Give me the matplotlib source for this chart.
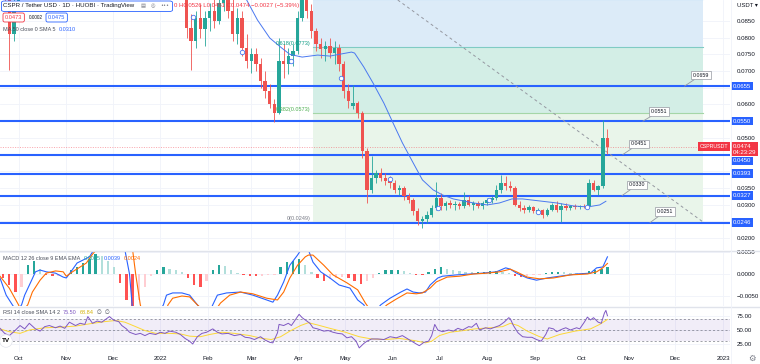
import numpy as np
import pandas as pd
import matplotlib
matplotlib.use("Agg")
import matplotlib.pyplot as plt
import matplotlib.dates as mdates
from matplotlib.lines import Line2D
from matplotlib.patches import FancyBboxPatch
from matplotlib.transforms import blended_transform_factory

plt.rcParams["font.family"] = ["Liberation Sans", "DejaVu Sans"]

# day offsets are counted from 2021-10-01
BASE = pd.Timestamp("2021-10-01")

# ---------------- price data (3-day candles) ----------------
early_dates = ["2021-09-22", "2021-09-25", "2021-09-28", "2021-10-01"]
early_open = [0.0950, 0.0940, 0.0810, 0.0890]
early_high = [0.0990, 0.0960, 0.0920, 0.1050]
early_low = [0.0900, 0.0703, 0.0790, 0.0880]
early_close = [0.0940, 0.0810, 0.0890, 0.1020]

candle_dates = pd.date_range("2022-01-18", periods=92, freq="3D")
opens = [0.0930, 0.0830, 0.0790, 0.0860, 0.0825, 0.0860, 0.0880, 0.0850, 0.0905, 0.0940,
         0.0880, 0.0810, 0.0860, 0.0770, 0.0730, 0.0750, 0.0720, 0.0670, 0.0640, 0.0600,
         0.0575, 0.0730, 0.0720, 0.0745, 0.0760, 0.0860, 0.0960, 0.0880, 0.0820, 0.0780,
         0.0765, 0.0775, 0.0755, 0.0770, 0.0720, 0.0640, 0.0595, 0.0605, 0.0575, 0.0460,
         0.0345, 0.0380, 0.0395, 0.0380, 0.0370, 0.0365, 0.0345, 0.0350, 0.0325, 0.0315,
         0.0280, 0.0250, 0.0258, 0.0270, 0.0290, 0.0320, 0.0295, 0.0305, 0.0298, 0.0302,
         0.0295, 0.0315, 0.0300, 0.0305, 0.0295, 0.0305, 0.0315, 0.0320, 0.0345, 0.0365,
         0.0355, 0.0350, 0.0300, 0.0290, 0.0285, 0.0292, 0.0280, 0.0283, 0.0270, 0.0285,
         0.0300, 0.0285, 0.0295, 0.0290, 0.0296, 0.0292, 0.0297, 0.0295, 0.0365, 0.0345,
         0.0355, 0.0500]
highs = [0.0970, 0.0870, 0.0880, 0.0900, 0.0880, 0.0905, 0.0920, 0.0940, 0.0970, 0.0980,
         0.0930, 0.0890, 0.0880, 0.0810, 0.0770, 0.0770, 0.0740, 0.0700, 0.0660, 0.0615,
         0.0800, 0.0780, 0.0770, 0.0780, 0.0880, 0.1000, 0.1020, 0.0900, 0.0830, 0.0800,
         0.0790, 0.0800, 0.0790, 0.0780, 0.0730, 0.0660, 0.0658, 0.0610, 0.0580, 0.0470,
         0.0445, 0.0405, 0.0410, 0.0395, 0.0385, 0.0375, 0.0360, 0.0355, 0.0335, 0.0320,
         0.0290, 0.0265, 0.0280, 0.0300, 0.0368, 0.0335, 0.0310, 0.0315, 0.0310, 0.0308,
         0.0338, 0.0325, 0.0310, 0.0312, 0.0310, 0.0320, 0.0325, 0.0360, 0.0388, 0.0385,
         0.0370, 0.0355, 0.0310, 0.0300, 0.0300, 0.0296, 0.0290, 0.0288, 0.0290, 0.0305,
         0.0310, 0.0305, 0.0305, 0.0300, 0.0302, 0.0300, 0.0302, 0.0378, 0.0375, 0.0360,
         0.0552, 0.0526]
lows = [0.0800, 0.0703, 0.0770, 0.0800, 0.0775, 0.0820, 0.0830, 0.0840, 0.0880, 0.0860,
        0.0790, 0.0780, 0.0745, 0.0710, 0.0695, 0.0700, 0.0650, 0.0620, 0.0590, 0.0547,
        0.0570, 0.0680, 0.0690, 0.0715, 0.0750, 0.0850, 0.0860, 0.0800, 0.0760, 0.0740,
        0.0730, 0.0740, 0.0720, 0.0700, 0.0620, 0.0590, 0.0585, 0.0560, 0.0440, 0.0305,
        0.0335, 0.0365, 0.0370, 0.0360, 0.0350, 0.0335, 0.0330, 0.0315, 0.0305, 0.0270,
        0.0240, 0.0230, 0.0245, 0.0262, 0.0285, 0.0285, 0.0285, 0.0290, 0.0285, 0.0288,
        0.0290, 0.0295, 0.0285, 0.0290, 0.0288, 0.0300, 0.0305, 0.0315, 0.0335, 0.0345,
        0.0340, 0.0295, 0.0280, 0.0275, 0.0278, 0.0275, 0.0272, 0.0260, 0.0265, 0.0280,
        0.0278, 0.0248, 0.0285, 0.0283, 0.0288, 0.0288, 0.0290, 0.0292, 0.0340, 0.0330,
        0.0350, 0.0451]
closes = [0.0830, 0.0790, 0.0860, 0.0825, 0.0860, 0.0880, 0.0850, 0.0905, 0.0940, 0.0880,
          0.0810, 0.0860, 0.0770, 0.0730, 0.0750, 0.0720, 0.0670, 0.0640, 0.0600, 0.0575,
          0.0730, 0.0720, 0.0745, 0.0760, 0.0860, 0.0960, 0.0880, 0.0820, 0.0780, 0.0765,
          0.0775, 0.0755, 0.0770, 0.0720, 0.0640, 0.0610, 0.0605, 0.0575, 0.0460, 0.0345,
          0.0380, 0.0395, 0.0380, 0.0370, 0.0365, 0.0345, 0.0350, 0.0325, 0.0315, 0.0280,
          0.0250, 0.0258, 0.0270, 0.0290, 0.0320, 0.0295, 0.0305, 0.0298, 0.0302, 0.0295,
          0.0315, 0.0300, 0.0305, 0.0295, 0.0305, 0.0315, 0.0320, 0.0345, 0.0365, 0.0355,
          0.0350, 0.0300, 0.0290, 0.0285, 0.0292, 0.0280, 0.0283, 0.0270, 0.0285, 0.0300,
          0.0285, 0.0295, 0.0290, 0.0296, 0.0292, 0.0297, 0.0295, 0.0365, 0.0345, 0.0355,
          0.0501, 0.0474]

# MA line of the main pane
ma_day = [108, 131, 148, 155, 163, 170, 176, 184, 194, 202, 216, 218, 224, 230, 237, 243,
          249, 256, 262, 269, 275, 282, 295, 304, 312, 320, 327, 338, 349, 360, 369, 377, 381]
ma_val = [0.1050, 0.0990, 0.0913, 0.0853, 0.0799, 0.0772, 0.0750, 0.0742, 0.0748, 0.0745,
          0.0757, 0.0754, 0.0712, 0.0664, 0.0604, 0.0544, 0.0485, 0.0425, 0.0374, 0.0344,
          0.0329, 0.0317, 0.0305, 0.0299, 0.0305, 0.0317, 0.0317, 0.0311, 0.0305, 0.0296,
          0.0293, 0.0299, 0.0310]

marker_day = [113, 145, 177, 209, 241, 272, 305, 337, 369]
marker_val = [0.0862, 0.0757, 0.0730, 0.0679, 0.0377, 0.0290, 0.0314, 0.0278, 0.0293]

# horizontal levels and notes
level_prices = [0.0655, 0.0550, 0.0450, 0.0393, 0.0327, 0.0246]
level_labels = ["0.0655", "0.0550", "0.0450", "0.0393", "0.0327", "0.0246"]
note_labels = ["0.0659", "0.0551", "0.0451", "0.0330", "0.0251"]
note_prices = [0.0655, 0.0550, 0.0450, 0.0327, 0.0246]

fib_ratios = ["0", "0.382", "0.618", "0.786"]
fib_prices = [0.0249, 0.0573, 0.0773, 0.0915]

last_price = 0.0474

# ---------------- MACD ----------------
macd_day = [-12, -8, -4, -1, 2, 4, 8, 11, 14, 18, 24, 29, 31, 34, 38, 42, 46, 48, 51, 56, 64,
            69, 72, 74, 79, 88, 94, 96, 100, 106, 111, 116, 120, 124, 126, 129, 135, 144, 152,
            161, 165, 168, 172, 176, 181, 184, 186, 188, 191, 196, 202, 208, 215, 220, 224, 227,
            231, 235, 241, 248, 252, 256, 260, 264, 267, 272, 275, 284, 293, 301, 310, 316, 319,
            323, 330, 336, 343, 351, 362, 371, 375, 379, 382]
macd_e4 = [-9, -48, -70, -85, -70, -48, -18, 5, 9, 5, 2, -7, -9, 5, 25, 32, 39, 50, 66, 82, 77,
           55, 0, -82, -127, -105, -70, -48, -43, -43, -48, -70, -86, -86, -70, -48, -43, -41, -48,
           -59, -64, -48, -18, 20, 43, 59, 64, 55, 27, 5, -9, -25, -32, -59, -70, -93,
           -86, -70, -55, -41, -34, -41, -43, -41, -25, -9, -5, -2, 0, 2, 5, 14, 11,
           2, -9, -14, -9, -5, 0, 2, 14, 16, 39]
signal_day = [-12, -6, 0, 2, 6, 9, 14, 18, 24, 29, 31, 35, 40, 44, 48, 52, 59, 69, 74, 76, 79,
              82, 92, 97, 100, 106, 111, 116, 121, 127, 131, 137, 144, 152, 161, 168, 172, 176,
              181, 186, 188, 191, 198, 204, 213, 220, 225, 229, 234, 239, 245, 252, 258, 262,
              267, 271, 278, 286, 295, 304, 312, 319, 323, 330, 338, 347, 358, 369, 375, 379, 382]
signal_e4 = [-5, -32, -70, -86, -70, -41, -14, 2, 7, 5, -5, 5, 16, 25, 45, 61, 82, 77, 55, 0, -70,
             -105, -116, -70, -55, -50, -52, -70, -86, -86, -66, -48, -41, -45, -55, -59, -41, -9,
             20, 39, 43, 43, 20, -2, -20, -36, -66, -86, -86, -70, -57, -43, -45, -43,
             -32, -18, -7, -5, 0, 2, 5, 11, 5, -7, -11, -9, -2, 0, 5, 14, 24]
hist_dates = pd.date_range("2021-09-21", periods=99, freq="4D")
hist_e4 = [-10, -25, -40, -30, 20, 30, 12, -3, -5, -4, -2, 8, 15, 25, 35, 45, 40, 30, 15, -20,
           -60, -80, -60, -30, -5, 10, 15, 12, 8, 4, -10, -25, -30, -15, 10, 20, 18, 10, 3, -3,
           -5, -5, -4, -3, -2, 15, 28, 30, 35, 20, 5, -10, -15, -12, -8, -6, -8, -15, -22, -15,
           -8, 3, 8, 10, 10, 6, 2, -2, -3, 5, 12, 15, 12, 8, 6, 5, 4, 4, 5, 6,
           7, 4, 2, -4, -6, -5, -3, -2, 2, 4, 5, 4, 3, 2, 3, 6, 10, 12, 15]

# ---------------- RSI ----------------
rsi_day = [-12, -9, -6, -3, 1, 4, 7, 11, 14, 17, 20, 24, 27, 30, 33, 37, 40, 43, 45, 48, 51, 54,
           57, 59, 62, 65, 67, 70, 72, 76, 79, 82, 85, 89, 92, 95, 98, 102, 105, 108, 111, 113,
           116, 119, 122, 126, 129, 132, 136, 140, 144, 147, 150, 153, 157, 160, 163, 165, 168,
           169, 172, 175, 177, 180, 182, 184, 186, 189, 191, 194, 198, 201, 204, 207, 210, 213,
           216, 219, 221, 224, 226, 229, 233, 237, 241, 245, 249, 252, 255, 258, 260, 263, 266,
           268, 270, 272, 275, 279, 282, 285, 288, 292, 294, 297, 299, 303, 306, 309, 312, 315,
           318, 319, 321, 324, 327, 330, 333, 336, 339, 342, 344, 347, 349, 353, 355, 358, 362,
           364, 367, 369, 371, 373, 376, 378, 380, 381, 382]
rsi_val = [53, 44, 40, 47, 58, 52, 62, 52, 48, 56, 58, 54, 57, 53, 64, 58, 62, 60, 74, 62, 66, 64,
           70, 74, 67, 65, 58, 52, 46, 42, 44, 40, 44, 42, 46, 44, 48, 46, 42, 35, 30, 25,
           38, 44, 46, 52, 46, 43, 44, 40, 42, 37, 36, 33, 38, 32, 28, 27, 45,
           60, 58, 62, 58, 70, 78, 72, 68, 62, 54, 52, 48, 49, 46, 44, 43, 36,
           38, 30, 18, 26, 30, 34, 34, 33, 38, 36, 40, 35, 30, 25, 22, 28, 30,
           40, 60, 50, 47, 50, 48, 53, 50, 56, 55, 62, 50, 54, 52, 55, 58, 64,
           72, 70, 58, 45, 38, 37, 37, 33, 30, 42, 54, 52, 47, 52, 54, 50, 54,
           52, 64, 73, 68, 72, 64, 62, 80, 85, 75.5]
rsi_ma_day = [-12, -6, 1, 7, 17, 27, 37, 46, 56, 63, 69, 76, 82, 89, 98, 105, 111, 118, 124, 132,
              140, 150, 158, 164, 170, 176, 183, 188, 194, 202, 212, 221, 229, 238, 247, 257,
              264, 268, 273, 280, 286, 296, 306, 314, 319, 324, 330, 338, 343, 351, 361, 371,
              377, 382]
rsi_ma_val = [52, 47, 44, 50, 54, 55, 57, 61, 65, 67, 64, 56, 49, 44, 44, 43, 39, 38, 42, 46,
              44, 40, 35, 33, 38, 48, 58, 63, 59, 53, 46, 38, 34, 33, 35, 31,
              27, 30, 40, 46, 48, 52, 54, 56, 62, 58, 48, 38, 34, 42, 48, 52,
              60, 68.84]


def on_days(days):
    return mdates.date2num(BASE) + np.asarray(days, dtype=float)


W, H = 760, 364


def fx(x):
    return x / W


def fy(y):
    return 1 - y / H


GRID = "#f0f3fa"
TEXT = "#131722"
LEG = "#4a4e5a"
GREY = "#787b86"
BLUE = "#2962ff"
RED = "#f23645"
UP = "#26a69a"
DOWN = "#ef5350"

fig = plt.figure(figsize=(7.6, 3.64), dpi=100, facecolor="white")
renderer = fig.canvas.get_renderer()
ax = fig.add_axes([0, fy(250), fx(730), 250 / H])
ax_macd = fig.add_axes([0, fy(306), fx(730), 55 / H], sharex=ax)
ax_rsi = fig.add_axes([0, fy(352), fx(730), 45 / H], sharex=ax)

months = pd.date_range("2021-10-01", "2023-01-01", freq="MS")
month_labels = [m.strftime("%Y") if m.month == 1 else m.strftime("%b") for m in months]

for a in (ax, ax_macd, ax_rsi):
    for s in a.spines.values():
        s.set_visible(False)
    a.yaxis.tick_right()
    a.tick_params(axis="both", length=0, labelsize=4.4, labelcolor=TEXT, pad=5)
    a.set_xticks(mdates.date2num(months))
    a.grid(True, color=GRID, lw=0.6)
    a.set_axisbelow(True)
    a.set_xlim(on_days([-12, 461.5]))
ax.tick_params(labelbottom=False)
ax_macd.tick_params(labelbottom=False)
ax_rsi.set_xticklabels(month_labels)
ax_rsi.tick_params(axis="x", pad=3)

# ---------------- main pane ----------------
ax.set_ylim(0.0164, 0.0913)
main_ticks = np.round(np.arange(0.020, 0.0851, 0.005), 4)
hidden = {0.025, 0.040, 0.045, 0.055, 0.065}
ax.set_yticks(main_ticks)
ax.set_yticklabels(["" if t in hidden else f"{t:.4f}" for t in main_ticks])

# fib retracement zones
fib_x = on_days([191, 444])
fib_fill = ["#e9f5ea", "#d3eee6", "#dcebf8"]
fib_line = ["#b2b5be", "#a5d6a7", "#80cbc4", "#90caf9"]
fib_text = [GREY, "#4caf50", "#089981", "#2196f3"]
for i in range(3):
    ax.fill_between(fib_x, fib_prices[i], fib_prices[i + 1], color=fib_fill[i], lw=0, zorder=0.6)
for i, (r, p) in enumerate(zip(fib_ratios, fib_prices)):
    ax.plot(fib_x, [p, p], color=fib_line[i], lw=0.8, zorder=0.7)
    if i < 3:
        ax.text(fib_x[0] - 1.5, p + 0.0003, f"{r}({p:.4f})", fontsize=4, color=fib_text[i],
                ha="right", va="bottom", zorder=6)

# horizontal levels
for p in level_prices:
    ax.axhline(p, color=BLUE, lw=1.5, zorder=2)

# current price dotted line
ax.axhline(last_price, color=RED, lw=0.5, ls=(0, (1.5, 2)), alpha=0.6, zorder=1.5)

# dashed trend line
ax.plot(on_days([246, 444]), [0.0913, 0.0248], color="#9598a1", lw=0.7, ls=(0, (3, 3)), zorder=2.2)


def draw_candles(dates, o, h, l, c, width):
    x = mdates.date2num(pd.to_datetime(dates))
    o, h, l, c = map(np.asarray, (o, h, l, c))
    cols = np.where(c >= o, UP, DOWN)
    ax.vlines(x, l, h, colors=cols, lw=0.6, zorder=3)
    ax.bar(x, np.maximum(np.abs(c - o), 0.00015), bottom=np.minimum(o, c), width=width,
           color=cols, lw=0, zorder=3.1)


draw_candles(early_dates, early_open, early_high, early_low, early_close, 2.2)
draw_candles(candle_dates, opens, highs, lows, closes, 2.2)

ax.plot(on_days(ma_day), ma_val, color="#4a78f0", lw=0.7, zorder=3.5)
ax.plot(on_days(marker_day), marker_val, ls="none", marker="o", ms=3.2, mfc="white",
        mec="#4a78f0", mew=0.6, zorder=4)

# price notes with leader lines
note_anchor_day = [432, 405, 392, 391.5, 409.6]
note_box_day = [442.7, 415.5, 402.2, 401.2, 419.4]
note_box_price = [0.0688, 0.0579, 0.0482, 0.0359, 0.0279]
for lab, p, ad, bd, bp in zip(note_labels, note_prices, note_anchor_day, note_box_day, note_box_price):
    ax.annotate(lab, xy=(on_days(ad), p), xytext=(on_days(bd), bp), fontsize=3.8, color=TEXT,
                ha="center", va="center", zorder=6,
                bbox=dict(boxstyle="square,pad=0.35", fc="white", ec="#9598a1", lw=0.5),
                arrowprops=dict(arrowstyle="-", color="#9598a1", lw=0.6, shrinkA=0, shrinkB=0))

# right-axis tags
tr = blended_transform_factory(ax.transAxes, ax.transData)
x_tag = 1.0 + 3 / 730
tag_y = [0.0655, 0.0550, 0.0431, 0.0393, 0.0327, 0.0246]
for lab, p in zip(level_labels, tag_y):
    ax.text(x_tag, p, lab, transform=tr, fontsize=4.3, color="white", ha="left",
            va="center", clip_on=False, zorder=8,
            bbox=dict(boxstyle="square,pad=0.3", fc=BLUE, ec="none"))
ax.text(x_tag, 0.0466, f"{last_price:.4f}\n04:23:29", transform=tr, fontsize=4.3,
        color="white", ha="left", va="center", linespacing=1.2, clip_on=False, zorder=9,
        bbox=dict(boxstyle="square,pad=0.3", fc=RED, ec="none"))
ax.text(1.0 - 2 / 730, last_price, "CSPRUSDT", transform=tr, fontsize=3.8, color="white",
        ha="right", va="center", clip_on=False, zorder=9,
        bbox=dict(boxstyle="square,pad=0.3", fc=RED, ec="none"))
ax.text(1.0 + 7 / 730, 0.0898, "USDT ▾", transform=tr, fontsize=4.3, color=TEXT,
        ha="left", va="center", clip_on=False)

# ---------------- MACD pane ----------------
ax_macd.set_ylim(-0.00727, 0.00523)
ax_macd.set_yticks([-0.005, 0.0, 0.005])
ax_macd.set_yticklabels(["\u22120.0050", "0.0000", "0.0050"])
hist = np.array(hist_e4) * 1e-4
prev = np.r_[hist[0], hist[:-1]]
hcol = np.where(hist >= 0, np.where(hist >= prev, UP, "#b2dfdb"),
                np.where(hist <= prev, "#ff5252", "#ffcdd2"))
ax_macd.bar(mdates.date2num(hist_dates), hist, width=1.6, color=hcol, lw=0, zorder=2)
ax_macd.plot(on_days(macd_day), np.array(macd_e4) * 1e-4, color=BLUE, lw=0.8, zorder=3)
ax_macd.plot(on_days(signal_day), np.array(signal_e4) * 1e-4, color="#ff6d00", lw=0.8, zorder=3)

# ---------------- RSI pane ----------------
ax_rsi.set_ylim(10.7, 91.1)
ax_rsi.set_yticks([25, 50, 75])
ax_rsi.set_yticklabels(["25.00", "50.00", "75.00"])
ax_rsi.axhspan(30, 70, color="#7e57c2", alpha=0.1, lw=0, zorder=1)
for lvl in (30, 50, 70):
    ax_rsi.axhline(lvl, color=GREY, lw=0.5, ls=(0, (3, 3)), zorder=1.5)
ax_rsi.plot(on_days(rsi_ma_day), rsi_ma_val, color="#fdd835", lw=0.7, zorder=3)
ax_rsi.plot(on_days(rsi_day), rsi_val, color="#7e57c2", lw=0.7, zorder=3.5)

# pane separators
for yy in (250.5, 306.5):
    fig.add_artist(Line2D([0, 1], [fy(yy), fy(yy)], color="#e0e3eb", lw=1.0))
fig.add_artist(Line2D([fx(730.5), fx(730.5)], [0, 1], color="#f0f3fa", lw=0.6))


# ---------------- legends ----------------
def chain(x0, y, parts, size, gap=3, **kw):
    """Write texts one after another on a row, starting at pixel x0."""
    x = x0
    for s, color in parts:
        t = fig.text(fx(x), fy(y), s, fontsize=size, color=color, va="center", ha="left", **kw)
        x = t.get_window_extent(renderer).x1 + gap
    return x


fig.add_artist(FancyBboxPatch((fx(1.5), fy(11.5)), fx(171), 10.5 / H,
                              boxstyle="round,pad=0,rounding_size=0.004",
                              fc="white", ec=BLUE, lw=0.6, zorder=2))
end = chain(3.5, 6, [("CSPR / Tether USD \u00b7 1D \u00b7 HUOBI \u00b7 TradingView", TEXT)], 4.4, zorder=3)
chain(end + 3, 6, [("\u25a4", GREY), ("\u25ce", GREY), ("\u2022\u2022\u2022", GREY)], 3.8, gap=5,
      zorder=3, family=["DejaVu Sans"])
chain(174, 6, [("0 H0.0526 L0.0451 C0.0474 \u22120.0027 (\u22125.39%)", RED)], 4.3)

fig.text(fx(5), fy(17.5), "0.0473", fontsize=4.1, color=RED, va="center", ha="left",
         bbox=dict(boxstyle="round,pad=0.35,rounding_size=0.3", fc="white", ec=RED, lw=0.6))
fig.text(fx(29), fy(17.5), "0.0002", fontsize=3.4, color=TEXT, va="center", ha="left")
fig.text(fx(48), fy(17.5), "0.0475", fontsize=4.1, color=BLUE, va="center", ha="left",
         bbox=dict(boxstyle="round,pad=0.35,rounding_size=0.3", fc="white", ec=BLUE, lw=0.6))
chain(3, 29.5, [("MA 50 close 0 SMA 5", LEG), ("0.0310", BLUE)], 4.0)
chain(3, 258, [("MACD 12 26 close 9 EMA EMA", LEG), ("0.0015", UP), ("0.0039", BLUE),
               ("0.0024", "#ff6d00")], 4.0)
chain(3, 312.5, [("RSI 14 close SMA 14 2", LEG), ("75.50", "#7e57c2"), ("68.84", "#d4b106"),
                 ("\u2205", LEG), ("\u2205", LEG)], 4.0, family=["Liberation Sans", "DejaVu Sans"])

fig.text(fx(6), fy(341), "TV", fontsize=4.6, fontweight="bold", color="black", ha="center",
         va="center", bbox=dict(boxstyle="circle,pad=0.35", fc="white", ec="#e0e3eb", lw=0.5))
fig.text(fx(752), fy(358), "\u2699", fontsize=6, color=GREY, ha="center", va="center",
         family=["DejaVu Sans"])

fig.savefig("out.png", dpi=100, facecolor="white")
